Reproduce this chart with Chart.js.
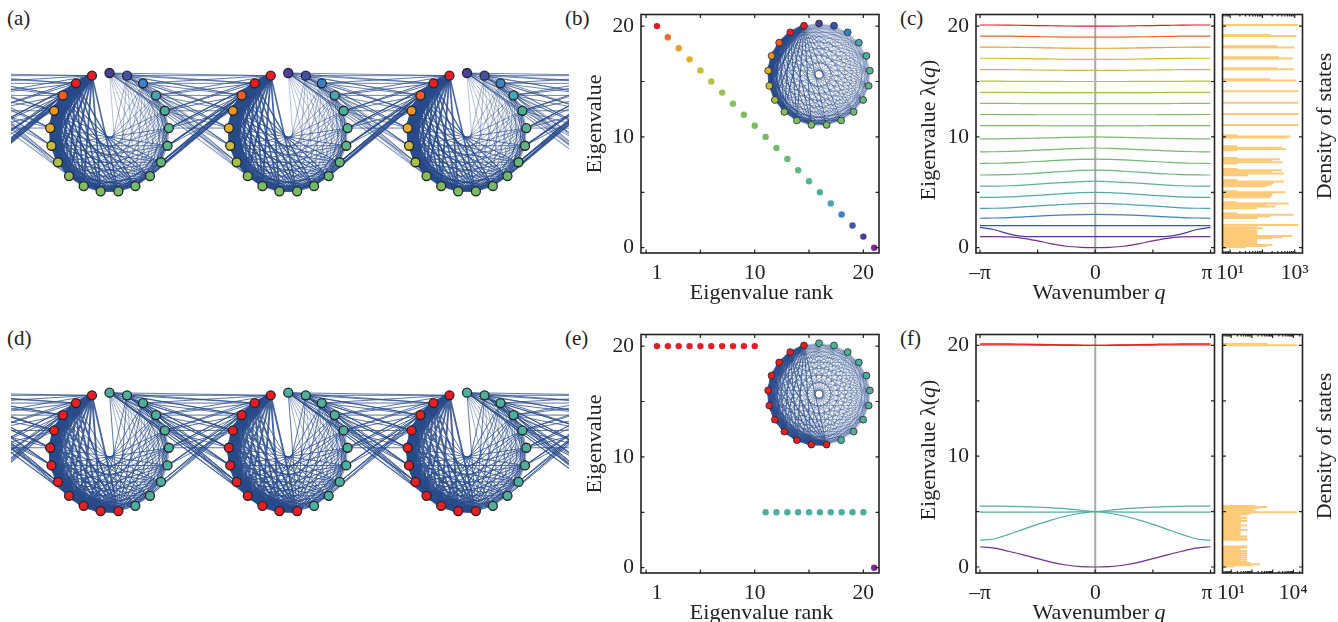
<!DOCTYPE html>
<html><head><meta charset="utf-8">
<style>
html,body{margin:0;padding:0;background:#fff;width:1338px;height:622px;overflow:hidden}
canvas{position:absolute}
.lab{position:absolute;font:21px "Liberation Serif",serif;color:#222;line-height:24px}
</style>
<script src="https://cdn.jsdelivr.net/npm/chart.js@4/dist/chart.umd.min.js"></script>
</head><body>
<div class="lab" style="left:7px;top:6px">(a)</div>
<div class="lab" style="left:565px;top:6px">(b)</div>
<div class="lab" style="left:900px;top:6px">(c)</div>
<div class="lab" style="left:7px;top:326px">(d)</div>
<div class="lab" style="left:565px;top:326px">(e)</div>
<div class="lab" style="left:900px;top:326px">(f)</div>
<script>
// ---------- data ----------
const nodeColorsA = ['#4a3f9f','#3f52a8','#3f80c4','#4aa2b4','#4eae9e','#56b394','#5fb588','#66b77e','#6eb974','#74ba6c','#7abc65','#7dbd63','#7fbd61','#88bd5a','#a8bf48','#c8bc3c','#e3ab2b','#ec9229','#ee5c27','#e41f26','#e41f26'];
const nodeColorsD = ['#4fae9e','#4fae9e','#4fae9e','#4fae9e','#4fae9e','#4fae9e','#4fae9e','#4fae9e','#4fae9e','#4fae9e','#e41f26','#e41f26','#e41f26','#e41f26','#e41f26','#e41f26','#e41f26','#e41f26','#e41f26','#e41f26','#e41f26'];
const ranks = [1,2,3,4,5,6,7,8,9,10,11,12,13,14,15,16,17,18,19,20,21];
const eigenB = [20,19,18,17,16,15,14,13,12,11,10,9,8,7,6,5,4,3,2,1,0];
const eigenE = [20,20,20,20,20,20,20,20,20,20,5,5,5,5,5,5,5,5,5,5,0];
const colorsB = ['#e41e26','#ee6a28','#ee9a2c','#dfb12e','#cdbc3a','#b7c04a','#9cc052','#8abf5c','#7fbd60','#7abd64','#76bc68','#73bb6c','#6cb972','#64b77c','#58b48c','#4fae9e','#46a0b8','#3f80c3','#3d55a8','#4a3c9b','#7a2a92'];
const colorsE = ['#e41e26','#e41e26','#e41e26','#e41e26','#e41e26','#e41e26','#e41e26','#e41e26','#e41e26','#e41e26','#4fae9e','#4fae9e','#4fae9e','#4fae9e','#4fae9e','#4fae9e','#4fae9e','#4fae9e','#4fae9e','#4fae9e','#7a2a92'];
const qFractions = [0,0.125,0.25,0.375,0.5,0.625,0.75,0.875,1];
const rimBySpan = [0,0.35,0.8,1,0.6];
const bandsC = [
 [20,20,20.01,20.03,20.05,20.07,20.09,20.1,20.1],
 [19,19,19.01,19.03,19.05,19.07,19.09,19.1,19.1],
 [18,18,18.01,18.03,18.05,18.07,18.09,18.1,18.1],
 [17,17,17.01,17.03,17.05,17.07,17.09,17.1,17.1],
 [16,16,16.01,16.02,16.04,16.05,16.07,16.08,16.08],
 [15,15,15,15.01,15.01,15.02,15.02,15.03,15.03],
 [14,14,14,14,14,14.01,14.01,14.02,14.02],
 [13,13,13,13,13.01,13.01,13.02,13.02,13.02],
 [12,12,12,12,12,12.01,12.01,12.02,12.02],
 [11,11,11,11,11.01,11.01,11.02,11.02,11.02],
 [10,9.98,9.95,9.92,9.89,9.86,9.84,9.83,9.83],
 [9,8.97,8.92,8.86,8.8,8.74,8.69,8.66,8.65],
 [8,7.97,7.92,7.85,7.78,7.71,7.65,7.62,7.6],
 [7,6.97,6.9,6.82,6.73,6.65,6.6,6.57,6.56],
 [6,5.97,5.9,5.82,5.73,5.65,5.59,5.56,5.55],
 [5,4.97,4.9,4.82,4.73,4.65,4.58,4.55,4.54],
 [4,3.98,3.92,3.85,3.77,3.68,3.6,3.56,3.55],
 [3,2.99,2.96,2.91,2.85,2.79,2.72,2.68,2.66],
 [2,2,2,2,2,2,2,2,2],
 [1,1,1,1,1,1.03,1.25,1.62,1.83],
 [0,0.03,0.13,0.35,0.62,0.85,0.97,1,1]
];
const bandsF = [
 [20,20.02,20.05,20.08,20.1,20.12,20.14,20.15,20.15],
 [20,20,20.01,20.02,20.03,20.04,20.05,20.05,20.05],
 [5,5.12,5.25,5.33,5.4,5.45,5.48,5.5,5.5],
 [5,4.98,4.96,4.95,4.95,4.95,4.95,4.95,4.95],
 [5,4.85,4.6,4.25,3.85,3.4,2.95,2.55,2.4],
 [0,0.04,0.18,0.42,0.76,1.1,1.42,1.7,1.83]
];
const bandColorsF = ['#e41e26','#e41e26','#4fae9e','#4fae9e','#4fae9e','#7a2a92'];
const dosLambdaC = [20.1,19.2,19.1,18.18,18.06,17.18,17.07,16.2,16.1,15.2,15.1,14.12,13.09,12.07,11.07,10.15,10.03,9.95,9.15,9.02,8.9,8.8,8.1,7.98,7.88,7.72,7.6,7.1,6.98,6.85,6.7,6.55,6.1,5.98,5.83,5.68,5.55,5.1,5.0,4.85,4.7,4.55,4.1,4.0,3.87,3.72,3.57,3.1,2.98,2.83,2.68,2.05,
 1.85,1.75,1.65,1.55,1.45,1.35,1.25,1.15,1.05,0.95,0.85,0.75,0.65,0.55,0.45,0.35,0.25,0.15,0.05];
const dosCountC = [1260,172,1100,280,950,320,850,280,950,172,1100,1260,1260,1260,1260,16,720,570,16,400,520,16,16,340,190,400,16,16,400,190,450,35,16,450,215,190,130,16,500,200,190,172,16,640,130,250,67,16,870,172,70,1260,
 67,100,35,67,67,67,67,67,800,400,190,67,67,67,67,67,200,130,30];
const dosLambdaF = [20.12,20.02,5.5,5.42,5.32,5.2,5.1,4.95,4.85,4.75,4.65,4.55,4.45,4.35,4.25,4.15,4.05,3.95,3.85,3.75,3.65,3.55,3.45,3.35,3.25,3.15,3.05,2.95,2.85,2.75,2.65,2.55,2.45,1.85,1.75,1.65,1.55,1.45,1.35,1.25,1.15,1.05,0.95,0.85,0.75,0.65,0.55,0.45,0.35,0.25,0.15,0.05];
const dosCountF = [525,14800,145,525,234,110,145,14800,80,60,27,27,57,27,27,57,27,27,27,57,27,27,27,57,27,27,27,27,27,57,27,57,57,57,57,27,27,57,27,57,27,57,27,57,27,57,27,57,80,234,100,13];

// ---------- shared ----------
const FONT = '"Liberation Serif", serif';
const INK = '#222';
const PI = Math.PI;
const SIZE = 22, TICK = 21.5;

const framePlugin = {
  id:'frame',
  beforeDraw(chart, args, o){
    if(!o.titles) return;
    const box = chart.canvas.getBoundingClientRect();
    for(const k of Object.keys(o.titles)){
      const t = o.titles[k];
      chart.scales[k].drawTitle = function(){
        const c = chart.ctx; c.save();
        c.translate(t.x-box.left, t.y-box.top);
        c.rotate(t.rot||0);
        c.fillStyle = INK; c.textBaseline='alphabetic'; c.textAlign='left';
        let w=0;
        for(const s of t.segs){ c.font=(s[1]?'italic ':'')+SIZE+'px '+FONT; w+=c.measureText(s[0]).width; }
        let p=-w/2;
        for(const s of t.segs){ c.font=(s[1]?'italic ':'')+SIZE+'px '+FONT; c.fillText(s[0],p,0); p+=c.measureText(s[0]).width; }
        c.restore();
      };
    }
  },
  afterDatasetsDraw(chart, args, o){
    if(!o.box) return;
    const a = chart.chartArea, c = chart.ctx, X = chart.scales.x, Y = chart.scales.y;
    c.save(); c.strokeStyle = INK; c.lineWidth = 1.6;
    c.strokeRect(a.left,a.top,a.right-a.left,a.bottom-a.top);
    c.lineWidth = 1.2;
    const tx=(v,l)=>{const p=X.getPixelForValue(v);c.beginPath();c.moveTo(p,a.bottom);c.lineTo(p,a.bottom-l);c.moveTo(p,a.top);c.lineTo(p,a.top+l);c.stroke();};
    const ty=(v,l)=>{const p=Y.getPixelForValue(v);c.beginPath();c.moveTo(a.left,p);c.lineTo(a.left+l,p);c.moveTo(a.right,p);c.lineTo(a.right-l,p);c.stroke();};
    (o.xMajor||[]).forEach(v=>tx(v,3.5));
    (o.xMinor||[]).forEach(v=>tx(v,2));
    (o.yMajor||[]).forEach(v=>ty(v,3.5));
    c.restore();
  }
};
Chart.register(framePlugin);

function place(id,box){
  const cv=document.createElement('canvas'); cv.id=id;
  cv.width=box.w; cv.height=box.h;
  cv.style.left=box.l+'px'; cv.style.top=box.t+'px';
  cv.style.width=box.w+'px'; cv.style.height=box.h+'px';
  document.body.appendChild(cv); return cv;
}
function fixed(dim,val){
  return s=>{ s[dim]=val; s.paddingLeft=s.paddingRight=s.paddingTop=s.paddingBottom=0; };
}
function baseOptions(box,area,W,H,rightAxis){
  return {
    responsive:false, animation:false, devicePixelRatio:1, events:[],
    layout:{autoPadding:false,padding:{
      left: rightAxis ? area.l-box.l : area.l-box.l-W,
      right: rightAxis ? box.l+box.w-area.r-W : box.l+box.w-area.r,
      top: area.t-box.t,
      bottom: box.t+box.h-area.b-H}},
    plugins:{legend:{display:false},tooltip:{enabled:false},title:{display:false}}
  };
}
function axis(extra,tickMap,dim,val){
  return Object.assign({
    grid:{display:false,drawTicks:false}, border:{display:false},
    ticks:{color:INK,font:{family:FONT,size:TICK},padding:7,autoSkip:false,maxRotation:0,minRotation:0,
      callback:v=>tickMap.has(v)?tickMap.get(v):''},
    afterBuildTicks:s=>{s.ticks=[...tickMap.keys()].map(v=>({value:v}));},
    afterFit:fixed(dim,val)
  },extra);
}
function yLimits(area,zero,unit){ return {min:(zero-area.b)/unit, max:(zero-area.t)/unit}; }

// ---------- network ----------
function nodeXY(i,cell,cellUnit){
  const th=2*PI*i/21;
  return {x:cell+cellUnit*Math.sin(th), y:Math.cos(th)};
}
function networkChart(id,box,cfg){
  const groups=new Map();
  const add=(w,a,b)=>{ const k=Math.round(w*10)/10; if(!groups.has(k))groups.set(k,[]); groups.get(k).push(a,b,{x:null,y:null}); };
  for(const c of cfg.cells){
    for(let i=0;i<21;i++)for(let j=i+1;j<21;j++){
      const span=j-i;
      const rim=cfg.rim(i,j)*(rimBySpan[span]||0);
      const w=(cfg.width(i,j)+rim)*cfg.scale;
      if(span<=10 || cfg.full) add(w,nodeXY(i,c,cfg.unit),nodeXY(j,c,cfg.unit));
      else add(w,nodeXY(i,c,cfg.unit),nodeXY(j,c+1,cfg.unit));
    }
  }
  const nodes=[],cols=[];
  for(const c of cfg.shown)for(let i=0;i<21;i++){nodes.push(nodeXY(i,c,cfg.unit));cols.push(cfg.colors[i]);}
  const datasets=[{data:nodes,showLine:false,pointRadius:cfg.nodeR,pointBorderWidth:cfg.nodeB,pointBorderColor:'#262626',pointBackgroundColor:cols,clip:false}];
  [...groups.keys()].sort((a,b)=>b-a).forEach(k=>datasets.push({data:groups.get(k),showLine:true,spanGaps:false,borderWidth:k,borderColor:cfg.edge,pointRadius:0,borderCapStyle:'butt',borderJoinStyle:'bevel'}));
  new Chart(place(id,box),{type:'scatter',data:{datasets},options:{
    responsive:false,animation:false,devicePixelRatio:1,events:[],
    layout:{autoPadding:false,padding:0},plugins:{legend:{display:false},tooltip:{enabled:false}},
    scales:{
      x:{type:'linear',display:false,min:(box.l-cfg.cx)/cfg.px,max:(box.l+box.w-cfg.cx)/cfg.px},
      y:{type:'linear',display:false,min:-(box.t+box.h-cfg.cy)/cfg.r,max:(cfg.cy-box.t)/cfg.r}
    }}});
}
const widthA=(i,j)=>0.4+2.8*Math.pow((i+j)/40,3);
const widthD=(i,j)=>(i>=10&&j>=10)?1.9:((j>=10)?0.85:0.5);
const rimA=(i,j)=>0.3+6.0*Math.pow((i+j)/40,3);
const rimD=(i,j)=>(i>=10&&j>=10)?4.5:0.4;
const EDGE='rgba(40,74,138,0.85)';
[[nodeColorsA,widthA,rimA,132.5,'netA'],[nodeColorsD,widthD,rimD,452.2,'netD']].forEach(([colors,width,rim,cy,id])=>{
  networkChart(id,{l:11,t:Math.round(cy-78),w:558,h:156},{
    cells:[-1,0,1,2],shown:[0,1,2],unit:59.5/178.75,px:178.75,r:59.5,cx:109.5,cy,
    colors,width,rim,scale:1,edge:EDGE,nodeR:4.5,nodeB:1.3});
});

// ---------- eigenvalue scatter ----------
function rankPanel(id,top,values,colors,zero,area){
  const box={l:580,t:top,w:310,h:310};
  const opts=baseOptions(box,area,50,46);
  const xt=new Map([[1,'1'],[10,'10'],[20,'20']]);
  const yt=new Map([[0,'0'],[10,'10'],[20,'20']]);
  opts.plugins.frame={box:true,xMajor:[0,5,10,15,20],yMajor:[0,5,10,15,20],
    titles:{
      x:{segs:[['Eigenvalue rank']],x:761.6,y:top+299},
      y:{segs:[['Eigenvalue']],x:600.5,y:top+124,rot:-PI/2}}};
  opts.scales={
    x:axis({type:'linear',min:-0.47,max:21.44,title:{display:true,text:'Eigenvalue rank',font:{family:FONT,size:SIZE}}},xt,'height',46),
    y:axis({type:'linear',...yLimits(area,zero,11.08),title:{display:true,text:'Eigenvalue',font:{family:FONT,size:SIZE}}},yt,'width',50)
  };
  new Chart(place(id,box),{type:'scatter',data:{datasets:[{
    data:ranks.map((r,i)=>({x:r,y:values[i]})),pointRadius:3.2,pointBorderWidth:0,pointBackgroundColor:colors}]},options:opts});
}
rankPanel('rankB',0,eigenB,colorsB,247.7,{l:641,t:14.5,r:879,b:253});
rankPanel('rankE',320,eigenE,colorsE,567.7,{l:641,t:334.5,r:879,b:573});

// ---------- insets ----------
[[nodeColorsA,widthA,rimA,74.5,13,'insetB'],[nodeColorsD,widthD,rimD,394.2,333,'insetE']].forEach(([colors,width,rim,cy,t,id])=>{
  networkChart(id,{l:757,t,w:124,h:124},{
    cells:[0],shown:[0],full:true,unit:1,px:51,r:51,cx:819,cy,
    colors,width,rim,scale:0.62,edge:'rgba(40,74,138,0.75)',nodeR:3.4,nodeB:0.8});
});

// ---------- bands ----------
function bandPanel(id,top,bands,colors,zero,area){
  const box={l:905,t:top,w:315,h:310};
  const opts=baseOptions(box,area,50,46);
  const xt=new Map([[-PI,'\u2013\u03c0'],[0,'0'],[PI-0.1,'\u03c0']]);
  const yt=new Map([[0,'0'],[10,'10'],[20,'20']]);
  opts.plugins.frame={box:true,xMajor:[-PI,-PI/2,0,PI/2,PI],yMajor:[0,5,10,15,20],
    titles:{
      x:{segs:[['Wavenumber '],['q',1]],x:1099,y:top+299},
      y:{segs:[['Eigenvalue \u03bb('],['q',1],[')']],x:935,y:top+130,rot:-PI/2}}};
  const pad=PI*4/115;
  const q=[...qFractions.slice(1).reverse().map(f=>-f*PI),...qFractions.map(f=>f*PI)];
  opts.scales={
    x:axis({type:'linear',min:-PI-pad,max:PI+pad,title:{display:true,text:'Wavenumber q',font:{family:FONT,size:SIZE}}},xt,'height',46),
    y:axis({type:'linear',...yLimits(area,zero,11.08),title:{display:true,text:'Eigenvalue \u03bb(q)',font:{family:FONT,size:SIZE}}},yt,'width',50)
  };
  const lim=opts.scales.y;
  const datasets=bands.map((b,k)=>{
    const vals=[...b.slice(1).reverse(),...b];
    return {data:q.map((x,i)=>({x,y:vals[i]})),showLine:true,borderColor:colors[k],borderWidth:1.2,pointRadius:0,cubicInterpolationMode:'monotone'};
  });
  datasets.push({data:[{x:0,y:lim.min},{x:0,y:lim.max}],showLine:true,borderColor:'#a9a9a9',borderWidth:2,pointRadius:0});
  new Chart(place(id,box),{type:'scatter',data:{datasets},options:opts});
}
bandPanel('bandC',0,bandsC,colorsB,247.7,{l:976,t:14.5,r:1214.5,b:253});
bandPanel('bandF',320,bandsF,bandColorsF,567,{l:976,t:334.5,r:1214.5,b:573});

// ---------- density of states ----------
function dosPanel(id,top,lam,cnt,zero,area,xmin,xmax,labels){
  const box={l:1216,t:top,w:122,h:310};
  const opts=baseOptions(box,area,30,46,true);
  const lo=Math.floor(Math.log10(xmin)), hi=Math.ceil(Math.log10(xmax));
  const major=[],minor=[];
  for(let d=lo;d<=hi;d++)for(let m=1;m<10;m++){const v=m*Math.pow(10,d);if(v<xmin||v>xmax)continue;(m===1?major:minor).push(v);}
  opts.plugins.frame={box:true,xMajor:major,xMinor:minor,yMajor:[0,5,10,15,20],
    titles:{y:{segs:[['Density of states']],x:1331,y:top+126,rot:-PI/2}}};
  opts.scales={
    x:axis({type:'logarithmic',min:xmin,max:xmax},labels,'height',46),
    y:Object.assign(axis({type:'linear',position:'right',...yLimits(area,zero,11.08),title:{display:true,text:'Density of states',font:{family:FONT,size:SIZE}}},new Map(),'width',30),
      {ticks:{display:false}})
  };
  opts.indexAxis='y';
  new Chart(place(id,box),{type:'bar',data:{datasets:[{
    data:lam.map((y,i)=>({x:cnt[i],y})),backgroundColor:'#fdca78',borderWidth:0,barThickness:1.35,grouped:false}]},options:opts});
}
dosPanel('dosC',0,dosLambdaC,dosCountC,247.7,{l:1222.5,t:14.5,r:1302.5,b:253},5.8,1740,new Map([[10,'10\u00b9'],[1000,'10\u00b3']]));
dosPanel('dosF',320,dosLambdaF,dosCountF,567,{l:1222.5,t:334.5,r:1302.5,b:573},3.8,27600,new Map([[10,'10\u00b9'],[10000,'10\u2074']]));
</script>
</body></html>
